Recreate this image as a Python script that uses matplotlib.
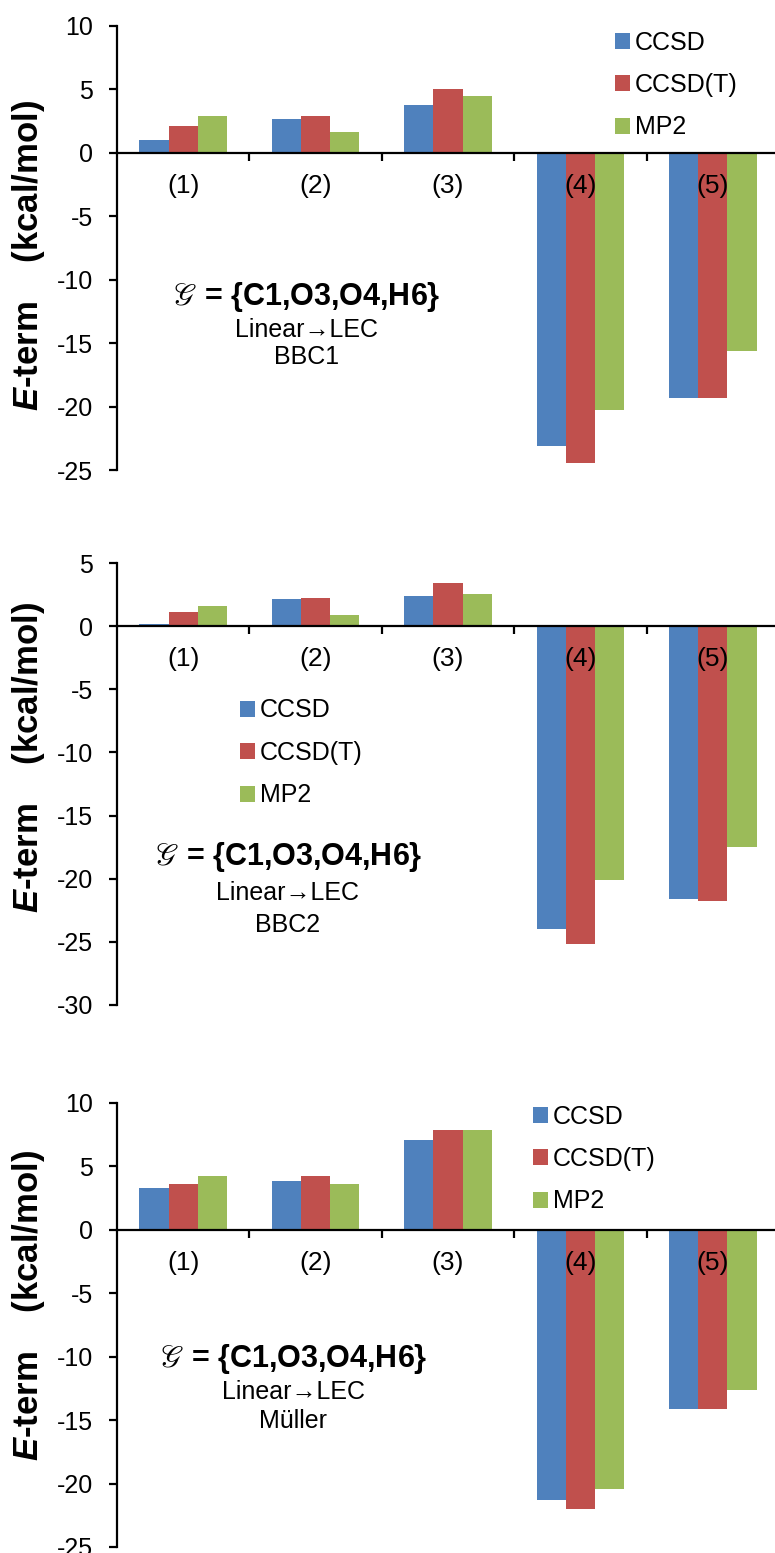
import matplotlib
matplotlib.use("Agg")
import matplotlib.pyplot as plt
import numpy as np

plt.rcParams['font.family'] = ['Liberation Sans', 'DejaVu Sans']
plt.rcParams['mathtext.fontset'] = 'custom'
plt.rcParams['mathtext.it'] = 'Liberation Sans:italic:bold'
plt.rcParams['mathtext.rm'] = 'Liberation Sans:bold'
plt.rcParams['axes.unicode_minus'] = False

categories = ['(1)', '(2)', '(3)', '(4)', '(5)']
methods = ['CCSD', 'CCSD(T)', 'MP2']
colors = ['#4F81BD', '#C0504D', '#9BBB59']

# BBC1
bbc1_ccsd = [1.0, 2.67, 3.81, -23.1, -19.3]
bbc1_ccsdt = [2.14, 2.88, 5.03, -24.4, -19.3]
bbc1_mp2 = [2.88, 1.64, 4.52, -20.2, -15.6]
# BBC2
bbc2_ccsd = [0.17, 2.13, 2.35, -23.96, -21.6]
bbc2_ccsdt = [1.11, 2.24, 3.38, -25.2, -21.8]
bbc2_mp2 = [1.63, 0.91, 2.58, -20.1, -17.5]
# Muller
muller_ccsd = [3.29, 3.82, 7.1, -21.3, -14.1]
muller_ccsdt = [3.6, 4.21, 7.84, -22.0, -14.1]
muller_mp2 = [4.21, 3.6, 7.84, -20.4, -12.6]

W, H = 775, 1553
fig = plt.figure(figsize=(W / 100, H / 100), dpi=100)


def panel(top_px, bot_px, ylim, series, method_name, text_xy, leg_xy, label_y):
    ax = fig.add_axes([117 / W, 1 - bot_px / H, 662 / W, (bot_px - top_px) / H])
    x = np.arange(1, len(categories) + 1)
    w = 0.221
    for j, vals in enumerate(series):
        ax.bar(x + (j - 1) * w, vals, w, color=colors[j], label=methods[j])

    ax.set_xlim(0.5, 5.5)
    ax.set_ylim(*ylim)
    ax.set_yticks(np.arange(ylim[0], ylim[1] + 1, 5))
    ax.spines['top'].set_visible(False)
    ax.spines['right'].set_visible(False)
    ax.spines['bottom'].set_position(('data', 0))
    ax.spines['left'].set_linewidth(1.6)
    ax.spines['bottom'].set_linewidth(1.6)
    ax.set_xticks(x + 0.5)
    ax.set_xticklabels([])
    ax.set_xticks(x, minor=True)
    ax.set_xticklabels(categories, minor=True)
    ax.tick_params(axis='x', which='major', direction='out', length=6, width=1.6)
    ax.tick_params(axis='x', which='minor', length=0, pad=15, labelsize=19)
    ax.tick_params(axis='y', direction='out', length=6, width=1.6, pad=11, labelsize=18)

    ax.set_ylabel(r'$\mathit{E}$-term    (kcal/mol)', fontsize=25, fontweight='bold')
    ax.yaxis.set_label_coords(-0.106, label_y)

    tx, ty = text_xy
    ax.text(tx, ty[0], r'$\mathscr{G}$ = {C1,O3,O4,H6}', fontsize=22, fontweight='bold',
            ha='center', va='center', math_fontfamily='stix')
    ax.text(tx, ty[1], 'Linear\u2192LEC', fontsize=18, ha='center', va='center')
    ax.text(tx, ty[2], method_name, fontsize=18, ha='center', va='center')

    ax.legend(loc='center left', bbox_to_anchor=(leg_xy[0] / W, 1 - leg_xy[1] / H),
              bbox_transform=fig.transFigure, frameon=False, fontsize=18,
              handlelength=0.6, handleheight=0.6, handletextpad=0.2,
              labelspacing=0.74, borderpad=0, borderaxespad=0)
    return ax


panel(26, 470.5, (-25, 10), [bbc1_ccsd, bbc1_ccsdt, bbc1_mp2], 'BBC1',
      (1.93, (-11.3, -13.9, -16.1)), (615, 85), 0.485)
panel(563, 1005, (-30, 5), [bbc2_ccsd, bbc2_ccsdt, bbc2_mp2], 'BBC2',
      (1.79, (-18.3, -21.1, -23.65)), (240, 753), 0.561)
panel(1103, 1547, (-25, 10), [muller_ccsd, muller_ccsdt, muller_mp2], 'Müller',
      (1.83, (-10.2, -12.8, -15.1)), (533, 1159), 0.545)

fig.savefig('out.png', dpi=100)
